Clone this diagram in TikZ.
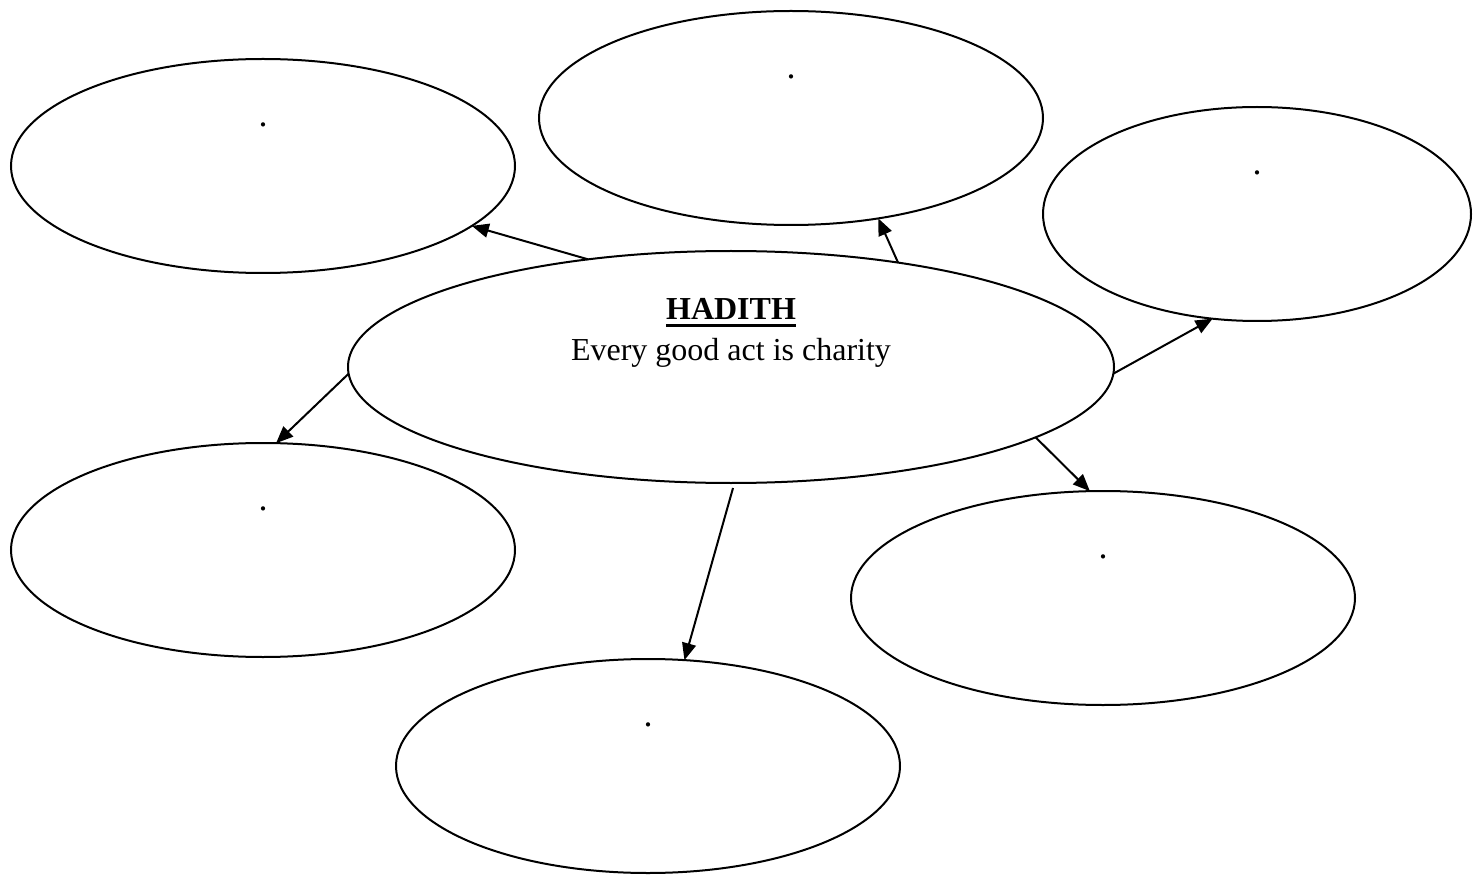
\documentclass[tikz,border=0pt]{standalone}
\usepackage{fontspec}
\setmainfont{Liberation Serif}
\usetikzlibrary{shapes.geometric,arrows.meta}
\newcommand\thickul[1]{\setbox0\hbox{#1}\rlap{\rule[-7pt]{\wd0}{3pt}}\box0}
\tikzset{
  bubble/.style={ellipse, draw, line width=2pt, inner sep=0pt, outer sep=0pt,
    minimum width=504pt, minimum height=214pt,
    label={[yshift=41pt, font=\fontsize{36}{40}\selectfont]center:.}},
  link/.style={line width=2pt, -{Triangle[length=17pt,width=14pt]}},
}
\begin{document}
\begin{tikzpicture}[x=1pt,y=1pt]
\useasboundingbox (0,0) rectangle (1473,-877);
\node[ellipse, draw, line width=2pt, inner sep=0pt, outer sep=0pt,
      minimum width=766pt, minimum height=232pt] (c) at (731,-367) {};
\node[font=\fontsize{32}{40}\selectfont, align=center, anchor=base, inner sep=0pt]
  (title) at ([yshift=7pt]c.center) {\thickul{\textbf{HADITH}}\\Every good act is charity};
\node[bubble] (tl) at (263,-166) {};
\node[bubble] (tm) at (791,-118) {};
\node[bubble, minimum width=428pt] (r) at (1257,-214) {};
\node[bubble] (lb) at (263,-550) {};
\node[bubble] (br) at (1103,-598) {};
\node[bubble] (b) at (648,-766) {};
\draw[link] (c.143) -- (tl.-16);
\draw[link] (c.32) -- (tm.-49);
\draw[link] (c.-1) -- (r.247);
\draw[link] (c.181) -- (lb.83);
\draw[link] (c.-13.5) -- (br.97);
\draw[link] ([yshift=-5pt]c.-89.5) -- (b.71);
\end{tikzpicture}
\end{document}
